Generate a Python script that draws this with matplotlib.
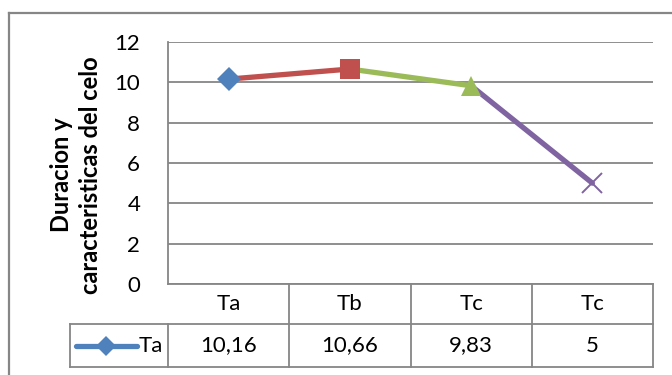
import matplotlib
matplotlib.use("Agg")
import matplotlib.pyplot as plt
from matplotlib.lines import Line2D

# data
categories = ["Ta", "Tb", "Tc", "Tc"]
values = [10.16, 10.66, 9.83, 5]
value_labels = ["10,16", "10,66", "9,83", "5"]
series_name = "Ta"
point_colors = ["#4F81BD", "#C0504D", "#9BBB59", "#8064A2"]
point_markers = ["D", "s", "^", "x"]
point_sizes = [12, 15, 15, 15]
y_ticks = [0, 2, 4, 6, 8, 10, 12]

plt.rcParams["font.family"] = ["Lato", "DejaVu Sans"]
fs = 16

W, H = 672, 375
fig = plt.figure(figsize=(W / 100, H / 100), dpi=100)

# outer chart frame (cut at right and bottom)
fig.add_artist(Line2D([9 / W, 9 / W], [0, 1 - 13 / H], color="#868686", lw=1.6))
fig.add_artist(Line2D([9 / W, 1], [1 - 13 / H, 1 - 13 / H], color="#868686", lw=1.6))

left, right, top, bottom = 168, 653, 42, 284
ax = fig.add_axes([left / W, 1 - bottom / H, (right - left) / W, (bottom - top) / H])
ax.set_xlim(-0.5, len(categories) - 0.5)
ax.set_ylim(0, 12)
ax.set_yticks(y_ticks)
ax.set_xticks([])
ax.tick_params(axis="y", length=0, labelsize=fs, pad=20)
for s in ["top", "right", "bottom"]:
    ax.spines[s].set_visible(False)
ax.spines["left"].set_color("#868686")
ax.spines["left"].set_linewidth(1.3)
for t in y_ticks:
    ax.axhline(t, color="#868686", lw=1.3, zorder=1)

xs = list(range(len(values)))
for i in range(1, len(values)):
    ax.plot(xs[i - 1:i + 1], values[i - 1:i + 1], color=point_colors[i],
            lw=3.8, solid_capstyle="round", zorder=2)
for i in range(len(values)):
    ax.plot(xs[i], values[i], marker=point_markers[i], color=point_colors[i],
            ms=point_sizes[i], mew=1.4 if point_markers[i] == "x" else 0, zorder=3,
            clip_on=False)

ax.set_ylabel("Duracion y\ncaracteristicas del celo", fontsize=17,
              fontweight="bold", linespacing=1.35, va="center", ha="center")
ax.yaxis.set_label_coords((76 - left) / (right - left), (bottom - 175) / (bottom - top))

# data table under the plot
row_h = (324 - 284) / (bottom - top)
row2_h = (367 - 324) / (bottom - top)
tx = ax.get_xaxis_transform()
gc = "#868686"
y0, y1, y2 = 0, -row_h, -row_h - row2_h
table_left = -0.5 - (left - 70) / ((right - left) / len(categories))
for k in range(len(categories) + 1):
    xb = k - 0.5
    ax.plot([xb, xb], [y0 if k > 0 else y1, y2], color=gc, lw=1.3,
            transform=tx, clip_on=False)
ax.plot([-0.5, len(categories) - 0.5], [y0, y0], color=gc, lw=1.3, transform=tx, clip_on=False)
ax.plot([table_left, len(categories) - 0.5], [y1, y1], color=gc, lw=1.3, transform=tx, clip_on=False)
ax.plot([table_left, len(categories) - 0.5], [y2, y2], color=gc, lw=1.3, transform=tx, clip_on=False)
ax.plot([table_left, table_left], [y1, y2], color=gc, lw=1.3, transform=tx, clip_on=False)

for i, c in enumerate(categories):
    ax.text(i, (y0 + y1) / 2, c, ha="center", va="center", fontsize=fs, transform=tx)
    ax.text(i, (y1 + y2) / 2, value_labels[i], ha="center", va="center", fontsize=fs,
            transform=tx)

# legend key in table
kx0 = table_left + 0.05
kx1 = table_left + 0.55
ky = (y1 + y2) / 2
ax.plot([kx0, kx1], [ky, ky], color=point_colors[0], lw=3.8, solid_capstyle="round",
        transform=tx, clip_on=False)
ax.plot([(kx0 + kx1) / 2], [ky], marker="D", color=point_colors[0], ms=10, mew=0,
        transform=tx, clip_on=False)
ax.text(kx1 + 0.015, ky, series_name, ha="left", va="center", fontsize=fs, transform=tx)

fig.savefig("out.png", dpi=100)
